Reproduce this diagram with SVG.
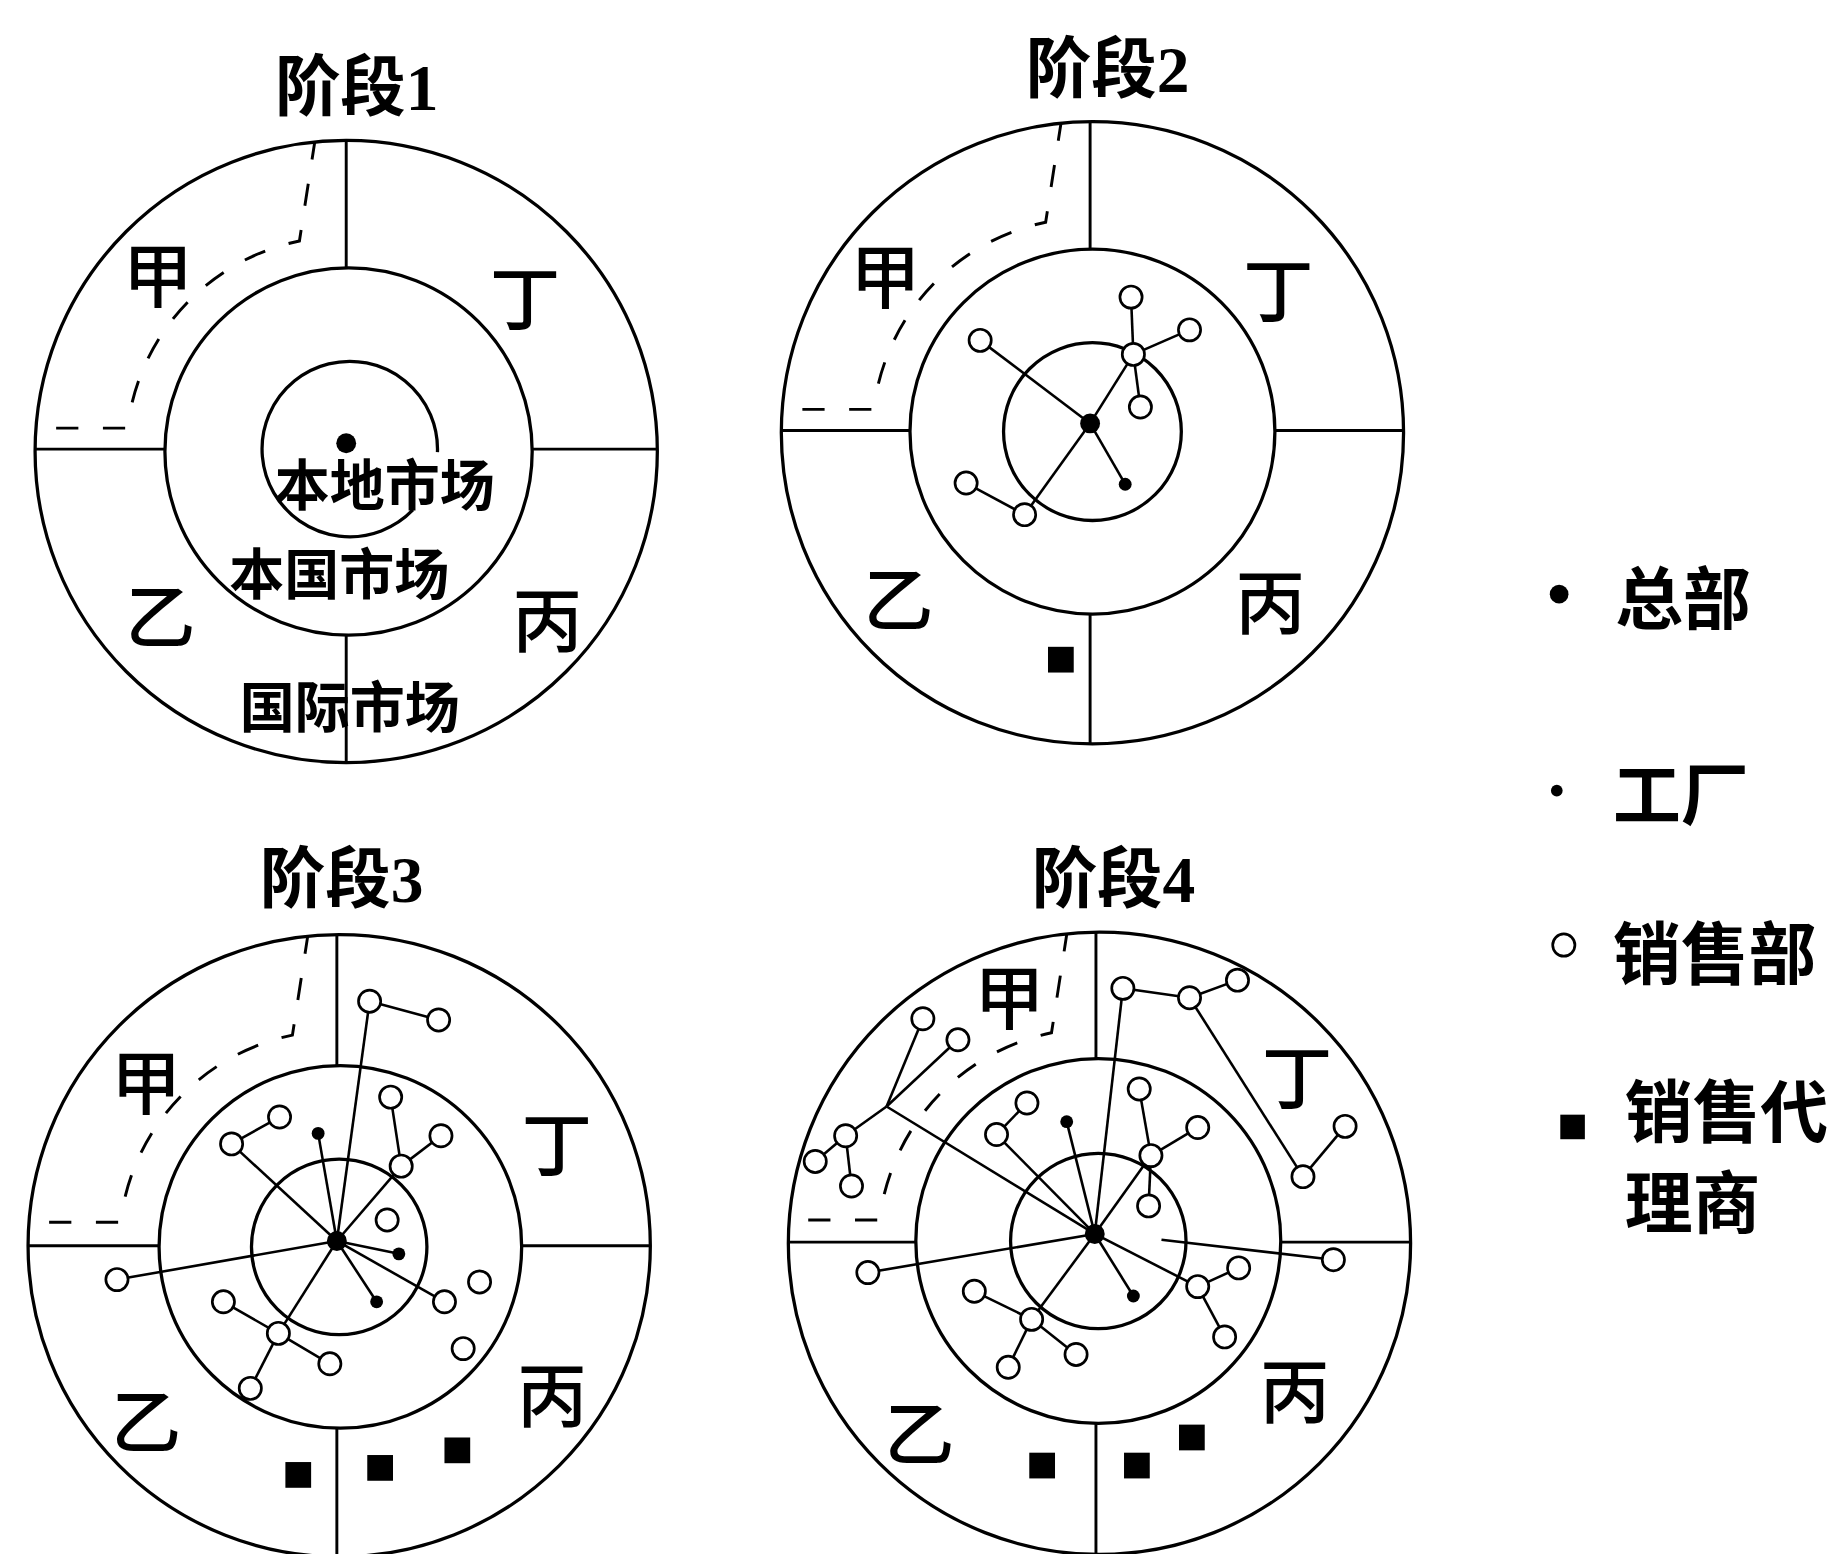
<svg xmlns="http://www.w3.org/2000/svg" xmlns:xlink="http://www.w3.org/1999/xlink" width="1834" height="1554" viewBox="0 0 1834 1554">
<style>
.ring{fill:none;stroke:#000;stroke-width:2.8}
.dv{stroke:#000;stroke-width:2.5}
.dash{fill:none;stroke:#000;stroke-width:2.5;stroke-dasharray:19 21}
.lk line{stroke:#000;stroke-width:2.2}
.sale{fill:#fff;stroke:#000;stroke-width:2.3}
.hq{fill:#000}
.fac{fill:#000}
.agent{fill:#000}
.zone{font-family:"Noto Sans CJK SC",sans-serif;font-weight:500;font-size:60px;text-anchor:middle;dominant-baseline:central}
.title{font-family:"Liberation Serif","Noto Sans CJK SC",serif;font-weight:bold;font-size:56px;text-anchor:middle;dominant-baseline:central}
.mkt{font-family:"Noto Sans CJK SC",sans-serif;font-weight:bold;font-size:47px;text-anchor:middle;dominant-baseline:central}
.leg{font-family:"Noto Sans CJK SC",sans-serif;font-weight:bold;font-size:58px;dominant-baseline:central}
</style>
<defs>
<path id="dpath" class="dash" d="M -248 -20 H -186 M -183 -42 A 186 186 0 0 1 -40 -180 L -27 -264"/>
</defs>
<rect width="1834" height="1554" fill="#fff"/>
<g transform="scale(1.16964)">

<!-- Stage 1 -->
<g id="stage1">
<text class="title" x="305" y="75">阶段1</text>
<circle class="ring" cx="296" cy="386" r="266"/>
<circle class="ring" cx="298" cy="386" r="157"/>
<path class="ring" d="M 374 386.6 A 75 75 0 1 0 353 436"/>
<line class="dv" x1="296" y1="120" x2="296" y2="229"/>
<line class="dv" x1="296" y1="543" x2="296" y2="652"/>
<line class="dv" x1="30" y1="384" x2="141" y2="384"/>
<line class="dv" x1="455" y1="384" x2="562" y2="384"/>
<use xlink:href="#dpath" transform="translate(296,386)"/>
<text class="zone" x="135" y="232">甲</text>
<text class="zone" x="449" y="252">丁</text>
<text class="zone" x="137" y="524">乙</text>
<text class="zone" x="468" y="527">丙</text>
<g id="s1-hq"><circle class="hq" cx="296" cy="379" r="8.5"/></g>
<text class="mkt" x="329" y="411">本地市场</text>
<text class="mkt" x="290" y="487">本国市场</text>
<text class="mkt" x="299" y="601">国际市场</text>
</g>

<!-- Stage 2 -->
<g id="stage2">
<text class="title" x="947" y="60">阶段2</text>
<circle class="ring" cx="934" cy="370" r="266"/>
<circle class="ring" cx="934" cy="369" r="156"/>
<circle class="ring" cx="934" cy="369" r="76"/>
<line class="dv" x1="932" y1="104" x2="932" y2="213"/>
<line class="dv" x1="932" y1="525" x2="932" y2="636"/>
<line class="dv" x1="668" y1="368" x2="778" y2="368"/>
<line class="dv" x1="1090" y1="368" x2="1200" y2="368"/>
<use xlink:href="#dpath" transform="translate(934,370)"/>
<text class="zone" x="757" y="233">甲</text>
<text class="zone" x="1093" y="245">丁</text>
<text class="zone" x="768" y="509">乙</text>
<text class="zone" x="1086" y="512">丙</text>
<g id="s2-links" class="lk">
<line x1="932" y1="362" x2="838" y2="291"/>
<line x1="932" y1="362" x2="876" y2="440"/>
<line x1="876" y1="440" x2="826" y2="413"/>
<line x1="932" y1="362" x2="969" y2="303"/>
<line x1="969" y1="303" x2="967" y2="254"/>
<line x1="969" y1="303" x2="1017" y2="282"/>
<line x1="969" y1="303" x2="975" y2="348"/>
<line x1="932" y1="362" x2="962" y2="414"/>
</g>
<g id="s2-hq"><circle class="hq" cx="932" cy="362" r="8.5"/></g>
<g id="s2-f1"><circle class="fac" cx="962" cy="414" r="5.5"/></g>
<g id="s2-n1"><circle class="sale" cx="838" cy="291" r="9.5"/></g>
<g id="s2-n2"><circle class="sale" cx="876" cy="440" r="9.5"/></g>
<g id="s2-n3"><circle class="sale" cx="826" cy="413" r="9.5"/></g>
<g id="s2-n4"><circle class="sale" cx="967" cy="254" r="9.5"/></g>
<g id="s2-n5"><circle class="sale" cx="1017" cy="282" r="9.5"/></g>
<g id="s2-n6"><circle class="sale" cx="969" cy="303" r="9.5"/></g>
<g id="s2-n7"><circle class="sale" cx="975" cy="348" r="9.5"/></g>
<g id="s2-a1"><rect class="agent" x="896" y="553" width="22" height="22"/></g>
</g>

<!-- Stage 3 -->
<g id="stage3">
<text class="title" x="292" y="752">阶段3</text>
<circle class="ring" cx="290" cy="1065" r="266"/>
<circle class="ring" cx="291" cy="1066" r="155"/>
<circle class="ring" cx="290" cy="1066" r="75"/>
<line class="dv" x1="288" y1="799" x2="288" y2="911"/>
<line class="dv" x1="288" y1="1221" x2="288" y2="1331"/>
<line class="dv" x1="24" y1="1065" x2="136" y2="1065"/>
<line class="dv" x1="446" y1="1065" x2="556" y2="1065"/>
<use xlink:href="#dpath" transform="translate(290,1065)"/>
<text class="zone" x="125" y="922">甲</text>
<text class="zone" x="476" y="975">丁</text>
<text class="zone" x="125" y="1212">乙</text>
<text class="zone" x="472" y="1190">丙</text>
<g id="s3-links" class="lk">
<line x1="288" y1="1061" x2="316" y2="856"/>
<line x1="316" y1="856" x2="375" y2="872"/>
<line x1="288" y1="1061" x2="272" y2="969"/>
<line x1="288" y1="1061" x2="198" y2="978"/>
<line x1="198" y1="978" x2="239" y2="955"/>
<line x1="288" y1="1061" x2="343" y2="997"/>
<line x1="343" y1="997" x2="334" y2="938"/>
<line x1="343" y1="997" x2="377" y2="971"/>
<line x1="288" y1="1061" x2="341" y2="1072"/>
<line x1="288" y1="1061" x2="322" y2="1113"/>
<line x1="288" y1="1061" x2="380" y2="1113"/>
<line x1="288" y1="1061" x2="100" y2="1094"/>
<line x1="288" y1="1061" x2="238" y2="1140"/>
<line x1="238" y1="1140" x2="191" y2="1113"/>
<line x1="238" y1="1140" x2="282" y2="1166"/>
<line x1="238" y1="1140" x2="214" y2="1187"/>
</g>
<g id="s3-hq"><circle class="hq" cx="288" cy="1061" r="8.5"/></g>
<g id="s3-f1"><circle class="fac" cx="272" cy="969" r="5.5"/></g>
<g id="s3-f2"><circle class="fac" cx="341" cy="1072" r="5.5"/></g>
<g id="s3-f3"><circle class="fac" cx="322" cy="1113" r="5.5"/></g>
<g id="s3-n1"><circle class="sale" cx="316" cy="856" r="9.5"/></g>
<g id="s3-n2"><circle class="sale" cx="375" cy="872" r="9.5"/></g>
<g id="s3-n3"><circle class="sale" cx="198" cy="978" r="9.5"/></g>
<g id="s3-n4"><circle class="sale" cx="239" cy="955" r="9.5"/></g>
<g id="s3-n5"><circle class="sale" cx="343" cy="997" r="9.5"/></g>
<g id="s3-n6"><circle class="sale" cx="334" cy="938" r="9.5"/></g>
<g id="s3-n7"><circle class="sale" cx="377" cy="971" r="9.5"/></g>
<g id="s3-n8"><circle class="sale" cx="331" cy="1043" r="9.5"/></g>
<g id="s3-n9"><circle class="sale" cx="380" cy="1113" r="9.5"/></g>
<g id="s3-n10"><circle class="sale" cx="410" cy="1096" r="9.5"/></g>
<g id="s3-n11"><circle class="sale" cx="396" cy="1153" r="9.5"/></g>
<g id="s3-n12"><circle class="sale" cx="100" cy="1094" r="9.5"/></g>
<g id="s3-n13"><circle class="sale" cx="238" cy="1140" r="9.5"/></g>
<g id="s3-n14"><circle class="sale" cx="191" cy="1113" r="9.5"/></g>
<g id="s3-n15"><circle class="sale" cx="282" cy="1166" r="9.5"/></g>
<g id="s3-n16"><circle class="sale" cx="214" cy="1187" r="9.5"/></g>
<g id="s3-a1"><rect class="agent" x="244" y="1250" width="22" height="22"/></g>
<g id="s3-a2"><rect class="agent" x="314" y="1244" width="22" height="22"/></g>
<g id="s3-a3"><rect class="agent" x="380" y="1229" width="22" height="22"/></g>
</g>

<!-- Stage 4 -->
<g id="stage4">
<text class="title" x="952" y="752">阶段4</text>
<circle class="ring" cx="940" cy="1063" r="266"/>
<circle class="ring" cx="939" cy="1061" r="156"/>
<circle class="ring" cx="939" cy="1061" r="75"/>
<line class="dv" x1="937" y1="797" x2="937" y2="905"/>
<line class="dv" x1="937" y1="1217" x2="937" y2="1331"/>
<line class="dv" x1="674" y1="1062" x2="783" y2="1062"/>
<line class="dv" x1="1095" y1="1062" x2="1206" y2="1062"/>
<use xlink:href="#dpath" transform="translate(939,1063)"/>
<text class="zone" x="863" y="849">甲</text>
<text class="zone" x="1109" y="918">丁</text>
<text class="zone" x="786" y="1222">乙</text>
<text class="zone" x="1107" y="1186">丙</text>
<g id="s4-links" class="lk">
<line x1="936" y1="1055" x2="912" y2="959"/>
<line x1="936" y1="1055" x2="852" y2="970"/>
<line x1="852" y1="970" x2="878" y2="943"/>
<line x1="936" y1="1055" x2="984" y2="988"/>
<line x1="984" y1="988" x2="974" y2="931"/>
<line x1="984" y1="988" x2="1024" y2="964"/>
<line x1="984" y1="988" x2="982" y2="1031"/>
<line x1="936" y1="1055" x2="960" y2="845"/>
<line x1="960" y1="845" x2="1017" y2="853"/>
<line x1="1017" y1="853" x2="1058" y2="838"/>
<line x1="1017" y1="853" x2="1114" y2="1006"/>
<line x1="1114" y1="1006" x2="1150" y2="963"/>
<line x1="936" y1="1055" x2="758" y2="946"/>
<line x1="758" y1="946" x2="789" y2="871"/>
<line x1="758" y1="946" x2="819" y2="889"/>
<line x1="758" y1="946" x2="723" y2="971"/>
<line x1="723" y1="971" x2="697" y2="993"/>
<line x1="723" y1="971" x2="728" y2="1014"/>
<line x1="936" y1="1055" x2="742" y2="1088"/>
<line x1="936" y1="1055" x2="882" y2="1128"/>
<line x1="882" y1="1128" x2="833" y2="1104"/>
<line x1="882" y1="1128" x2="920" y2="1158"/>
<line x1="882" y1="1128" x2="862" y2="1169"/>
<line x1="936" y1="1055" x2="969" y2="1108"/>
<line x1="936" y1="1055" x2="1024" y2="1100"/>
<line x1="1024" y1="1100" x2="1059" y2="1084"/>
<line x1="1024" y1="1100" x2="1047" y2="1143"/>
<line x1="993" y1="1060" x2="1140" y2="1077"/>
</g>
<g id="s4-hq"><circle class="hq" cx="936" cy="1055" r="8.5"/></g>
<g id="s4-f1"><circle class="fac" cx="912" cy="959" r="5.5"/></g>
<g id="s4-f2"><circle class="fac" cx="969" cy="1108" r="5.5"/></g>
<g id="s4-n1"><circle class="sale" cx="852" cy="970" r="9.5"/></g>
<g id="s4-n2"><circle class="sale" cx="878" cy="943" r="9.5"/></g>
<g id="s4-n3"><circle class="sale" cx="984" cy="988" r="9.5"/></g>
<g id="s4-n4"><circle class="sale" cx="974" cy="931" r="9.5"/></g>
<g id="s4-n5"><circle class="sale" cx="1024" cy="964" r="9.5"/></g>
<g id="s4-n6"><circle class="sale" cx="982" cy="1031" r="9.5"/></g>
<g id="s4-n7"><circle class="sale" cx="960" cy="845" r="9.5"/></g>
<g id="s4-n8"><circle class="sale" cx="1017" cy="853" r="9.5"/></g>
<g id="s4-n9"><circle class="sale" cx="1058" cy="838" r="9.5"/></g>
<g id="s4-n10"><circle class="sale" cx="1114" cy="1006" r="9.5"/></g>
<g id="s4-n11"><circle class="sale" cx="1150" cy="963" r="9.5"/></g>
<g id="s4-n12"><circle class="sale" cx="789" cy="871" r="9.5"/></g>
<g id="s4-n13"><circle class="sale" cx="819" cy="889" r="9.5"/></g>
<g id="s4-n14"><circle class="sale" cx="723" cy="971" r="9.5"/></g>
<g id="s4-n15"><circle class="sale" cx="697" cy="993" r="9.5"/></g>
<g id="s4-n16"><circle class="sale" cx="728" cy="1014" r="9.5"/></g>
<g id="s4-n17"><circle class="sale" cx="742" cy="1088" r="9.5"/></g>
<g id="s4-n18"><circle class="sale" cx="882" cy="1128" r="9.5"/></g>
<g id="s4-n19"><circle class="sale" cx="833" cy="1104" r="9.5"/></g>
<g id="s4-n20"><circle class="sale" cx="920" cy="1158" r="9.5"/></g>
<g id="s4-n21"><circle class="sale" cx="862" cy="1169" r="9.5"/></g>
<g id="s4-n22"><circle class="sale" cx="1024" cy="1100" r="9.5"/></g>
<g id="s4-n23"><circle class="sale" cx="1059" cy="1084" r="9.5"/></g>
<g id="s4-n24"><circle class="sale" cx="1047" cy="1143" r="9.5"/></g>
<g id="s4-n25"><circle class="sale" cx="1140" cy="1077" r="9.5"/></g>
<g id="s4-a1"><rect class="agent" x="880" y="1242" width="22" height="22"/></g>
<g id="s4-a2"><rect class="agent" x="961" y="1242" width="22" height="22"/></g>
<g id="s4-a3"><rect class="agent" x="1008" y="1218" width="22" height="22"/></g>
</g>

<!-- Legend -->
<g id="legend">
<g id="leg-hq"><circle class="hq" cx="1333" cy="508" r="8"/><text class="leg" x="1381" y="508">总部</text></g>
<g id="leg-factory"><circle class="fac" cx="1331" cy="676" r="5"/><text class="leg" x="1379" y="676">工厂</text></g>
<g id="leg-sales"><circle class="sale" cx="1337" cy="808" r="9.5"/><text class="leg" x="1379" y="812">销售部</text></g>
<g id="leg-agent"><rect class="agent" x="1334" y="953" width="21" height="21"/><text class="leg" x="1389" y="947">销售代</text><text class="leg" x="1389" y="1025">理商</text></g>
</g>

</g>
</svg>
